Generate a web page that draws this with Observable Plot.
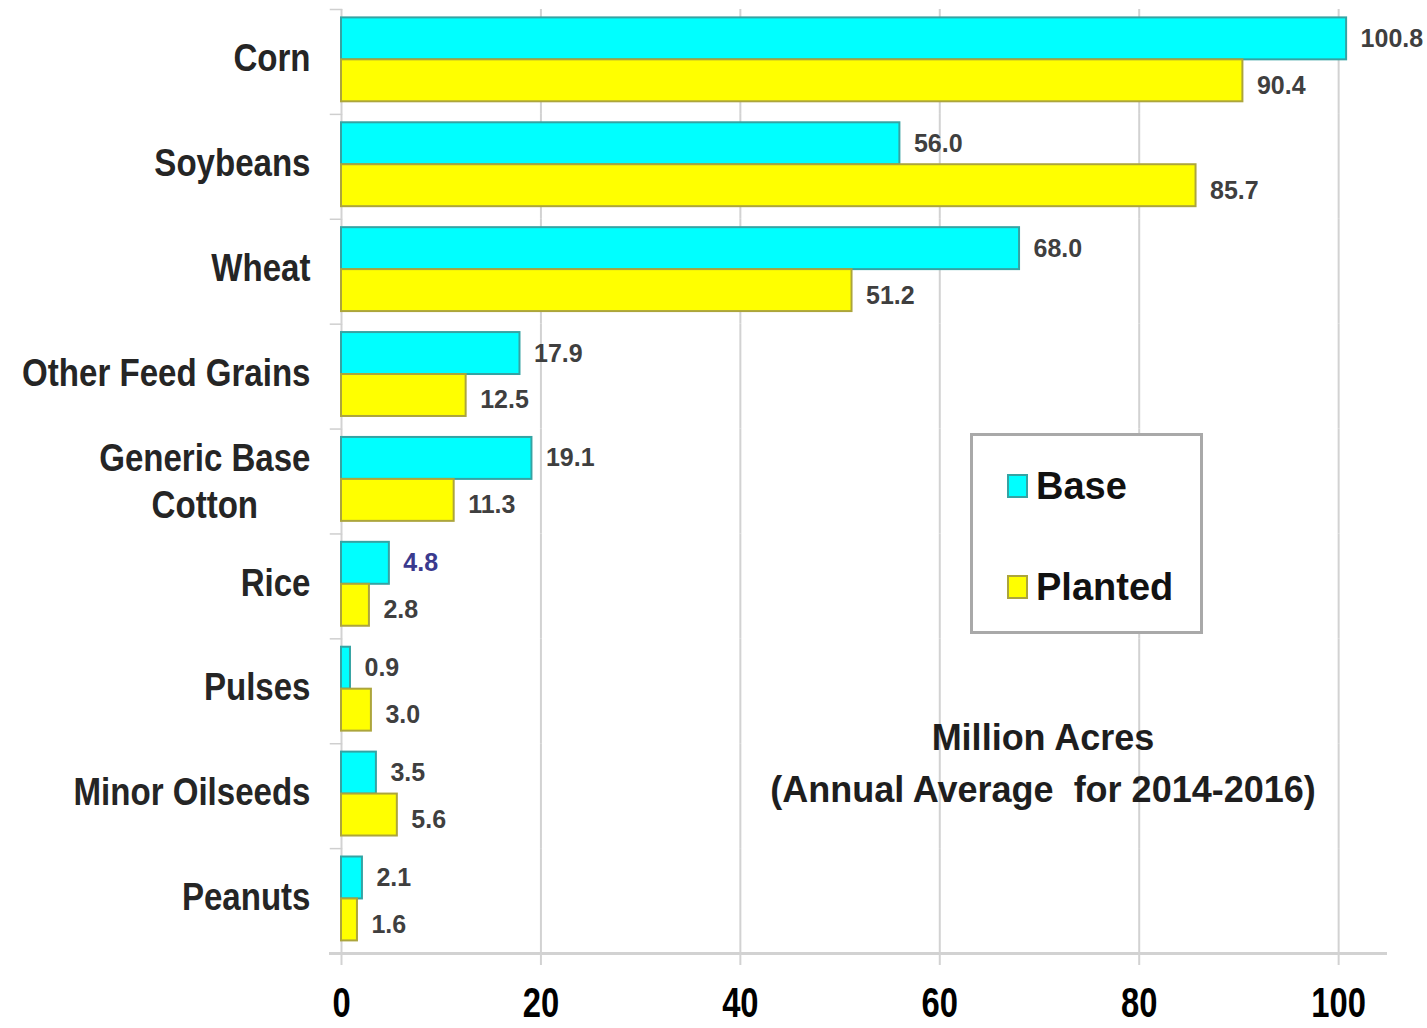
<!DOCTYPE html>
<html>
<head>
<meta charset="utf-8">
<script src="https://cdn.jsdelivr.net/npm/d3@7"></script>
<script src="https://cdn.jsdelivr.net/npm/@observablehq/plot@0.6"></script>
<style>
  body { margin: 0; background: #fff; font-family: "Liberation Sans", Arial, sans-serif; }
  #chart { position: relative; width: 1427px; height: 1028px; overflow: hidden; }
  #chart svg { position: absolute; left: 0; top: 0; }
  .legend { position: absolute; left: 970px; top: 433px; width: 233px; height: 201px;
            box-sizing: border-box; border: 3px solid #a9a9a9; background: #fff; }
  .legend .item { position: absolute; left: 34px; display: flex; align-items: center; height: 40px; }
  .legend .swatch { width: 17px; height: 20px; border: 2px solid; margin-right: 8px; }
  .legend .label { font: bold 38px "Liberation Sans", Arial, sans-serif; color: #111; }
  .note { position: absolute; left: 1043px; top: 712px; transform: translateX(-50%);
          text-align: center; white-space: pre; font: bold 36px/52px "Liberation Sans", Arial, sans-serif; color: #1e1e1e; }
</style>
</head>
<body>
<div id="chart"></div>
<script>
// Program crops, top to bottom
const crops = ["Corn", "Soybeans", "Wheat", "Other Feed Grains", "Generic Base\nCotton",
               "Rice", "Pulses", "Minor Oilseeds", "Peanuts"];
// Million acres, annual average for 2014-2016
const baseAcres    = [100.8, 56.0, 68.0, 17.9, 19.1, 4.8, 0.9, 3.5, 2.1];
const plantedAcres = [90.4, 85.7, 51.2, 12.5, 11.3, 2.8, 3.0, 5.6, 1.6];
const seriesNames  = ["Base", "Planted"];
const xTicks       = [0, 20, 40, 60, 80, 100];
const noteLines    = ["Million Acres", "(Annual Average  for 2014-2016)"];

const seriesFill   = {Base: "#00ffff", Planted: "#ffff00"};
const seriesStroke = {Base: "#35a3a3", Planted: "#aca53c"};

const W = 1427, H = 1028;
const margin = {top: 9, right: 42, bottom: 75, left: 341};
const innerW = W - margin.left - margin.right;
const gridColor = "#d2d2d2";
const labelFont = `"Liberation Sans", Arial, sans-serif`;
const cropFontSize = 38, cropSquash = 0.87, tickSquash = 0.78;

const rows = crops.flatMap((crop, i) => [
  {crop, series: "Base", value: baseAcres[i]},
  {crop, series: "Planted", value: plantedAcres[i]}
]);
const baseRows = rows.filter(d => d.series === "Base");
const plantedRows = rows.filter(d => d.series === "Planted");

// width of the widest line of a multi-line label, so its lines can be centred on each other
const ctx = document.createElement("canvas").getContext("2d");
ctx.font = `bold ${cropFontSize}px ${labelFont}`;
const multiWidth = (s) => d3.max(s.split("\n"), l => ctx.measureText(l).width) * cropSquash;

const labelFill = d => (d.crop === "Rice" && d.series === "Base") ? "#3a3a8e" : "#3f3f3f";

const singleCrops = crops.filter(c => !c.includes("\n"));
const multiCrops = crops.filter(c => c.includes("\n"));

const svg = Plot.plot({
  width: W, height: H,
  marginTop: margin.top, marginRight: margin.right, marginBottom: margin.bottom, marginLeft: margin.left,
  style: {fontFamily: labelFont, background: "#fff"},
  x: {domain: [0, 104.7], label: null},
  y: {domain: seriesNames, paddingInner: 0, paddingOuter: 0.25, align: 0.4, round: false, axis: null},
  fy: {domain: crops, padding: 0, round: false, axis: null},
  marks: [
    Plot.ruleX(xTicks, {stroke: gridColor, strokeWidth: 2}),
    // short separators between crop groups, left of the zero line
    Plot.frame({anchor: "top", stroke: "#cfcfcf", strokeWidth: 1.5, insetLeft: -11, insetRight: innerW}),
    Plot.frame({anchor: "bottom", facetAnchor: "bottom", stroke: gridColor, strokeWidth: 3, insetLeft: -11}),
    Plot.axisX({
      ticks: xTicks, tickFormat: d => String(d), tickSize: 12, tickPadding: 22, label: null,
      stroke: gridColor, strokeWidth: 2, fill: "#000",
      fontSize: 42, fontWeight: "bold"
    }),
    Plot.barX(baseRows, {fy: "crop", y: "series", x: "value",
      fill: seriesFill.Base, stroke: seriesStroke.Base, strokeWidth: 2}),
    Plot.barX(plantedRows, {fy: "crop", y: "series", x: "value",
      fill: seriesFill.Planted, stroke: seriesStroke.Planted, strokeWidth: 2}),
    Plot.text(baseRows, {fy: "crop", y: "series", x: "value", text: d => d.value.toFixed(1),
      dx: 14, dy: 0, textAnchor: "start", fontSize: 25, fontWeight: "bold", fill: labelFill}),
    Plot.text(plantedRows, {fy: "crop", y: "series", x: "value", text: d => d.value.toFixed(1),
      dx: 14, dy: 5, textAnchor: "start", fontSize: 25, fontWeight: "bold", fill: labelFill}),
    Plot.text(singleCrops, {fy: d => d, text: d => d, frameAnchor: "left", textAnchor: "end",
      dx: -31, dy: -3, fontSize: cropFontSize, fontWeight: "bold", fill: "#252525",
      ariaDescription: "crop label"}),
    Plot.text(multiCrops, {fy: d => d, text: d => d, frameAnchor: "left", textAnchor: "middle",
      dx: -31 - multiWidth(multiCrops[0] || "") / 2, dy: -2, lineHeight: 1.24,
      fontSize: cropFontSize, fontWeight: "bold", fill: "#252525", ariaDescription: "crop label"})
  ]
});

// horizontally condensed lettering for the crop names and the x tick labels
const squash = (sel, k) => svg.querySelectorAll(sel).forEach(t => {
  t.setAttribute("transform", (t.getAttribute("transform") || "") + ` scale(${k},1)`);
});
squash('g[aria-description="crop label"] text', cropSquash);
squash('g[aria-label="x-axis tick label"] text', tickSquash);

const chart = document.getElementById("chart");
chart.appendChild(svg);

// legend box
const legend = document.createElement("div");
legend.className = "legend";
seriesNames.forEach((name, i) => {
  const item = document.createElement("div");
  item.className = "item";
  item.style.top = (30 + i * 101) + "px";
  const sw = document.createElement("div");
  sw.className = "swatch";
  sw.style.background = seriesFill[name];
  sw.style.borderColor = seriesStroke[name];
  const lab = document.createElement("div");
  lab.className = "label";
  lab.textContent = name;
  item.append(sw, lab);
  legend.appendChild(item);
});
chart.appendChild(legend);

// units note
const note = document.createElement("div");
note.className = "note";
note.textContent = noteLines.join("\n");
chart.appendChild(note);
</script>
</body>
</html>
